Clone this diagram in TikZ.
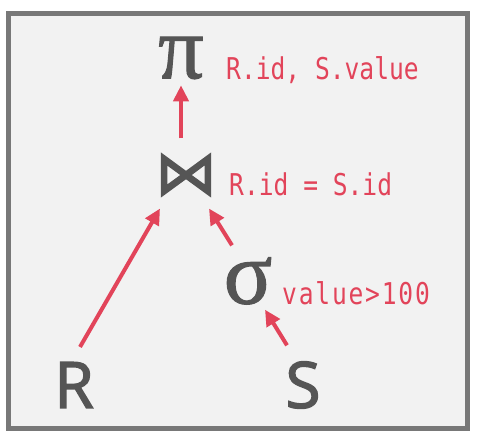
\documentclass[tikz,border=0pt]{standalone}
\usepackage{fontspec}
\setmainfont{Open Sans}
\newfontfamily\relfont{Open Sans}[FakeBold=2.2]
\newfontfamily\monofont{DejaVu Sans Mono}[FakeStretch=0.82]
\newfontfamily\monowide{DejaVu Sans Mono}[FakeStretch=0.82, LetterSpace=6]
\newfontfamily\symbolfont{DejaVu Sans}[FakeBold=2]
\newfontfamily\greekfont{Liberation Serif}[FakeBold=1.2]
\usepackage{xcolor}
\usetikzlibrary{positioning, arrows.meta}
\definecolor{opgray}{RGB}{85,85,85}
\definecolor{predred}{RGB}{226,68,90}
\definecolor{framegray}{RGB}{120,120,120}
\definecolor{panelgray}{RGB}{242,242,242}

\begin{document}
\begin{tikzpicture}[
  x=1pt, y=-1pt,
  operator/.style={inner sep=0pt, text=opgray, font=\greekfont\fontsize{90}{90}\selectfont},
  relation/.style={inner sep=0pt, text=opgray, font=\relfont\fontsize{64}{64}\selectfont},
  predicate/.style={inner sep=0pt, anchor=base west, text=predred, font=\monofont\fontsize{30}{30}\selectfont},
  flow/.style={draw=predred, line width=4pt, -{Triangle[length=16pt, width=15pt]}}
]
\useasboundingbox (0,0) rectangle (478,438);
\draw[draw=framegray, fill=panelgray, line width=5pt] (8.5,13.5) rectangle (467.5,428.5);

% Operators and relations
\node[operator] (projection) at (181,58) {π};
\node[operator, font=\symbolfont\fontsize{62}{62}\selectfont] (join) at (186,175) {⋈};
\node[operator] (selection) at (248,281) {σ};
\node[relation] (R) at (74,385) {R};
\node[relation] (S) at (303,385) {S};

% Predicates
\node[predicate] (projlabel) at (226,80) {R.id, S.value};
\node[predicate] (joinlabel) at (229,196) {R.id = S.id};
\node[predicate, font=\monowide\fontsize{30}{30}\selectfont] (sellabel) at (282,304) {value>100};

% Connections
\draw[flow] (join.north -| projection.south) ++(0,-15) -- ([yshift=-6pt]projection.south);
\draw[flow] ([xshift=6pt, yshift=15pt]R.north) -- ([xshift=-26pt, yshift=-12pt]join.south);
\draw[flow] ([xshift=-16pt, yshift=12pt]selection.north) -- ([xshift=23pt, yshift=-12pt]join.south);
\draw[flow] ([xshift=-16pt, yshift=16pt]S.north) -- ([xshift=17pt, yshift=-5pt]selection.south);

\end{tikzpicture}
\end{document}
